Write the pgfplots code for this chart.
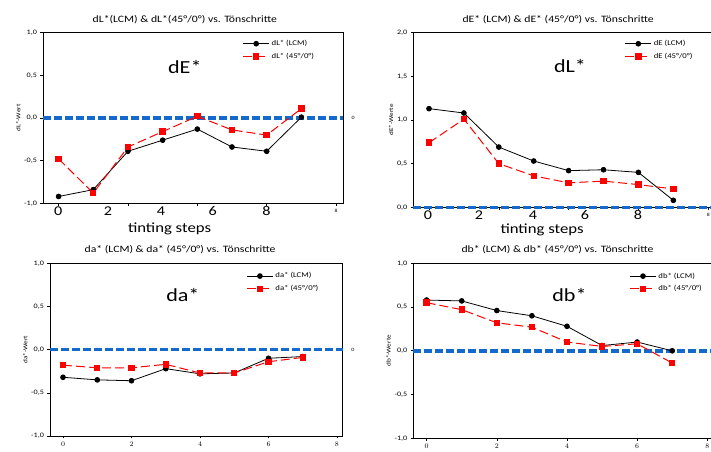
\documentclass[border=0pt]{standalone}
\usepackage{fontspec}
\setmainfont{Carlito}[FakeStretch=1.2]
\usepackage{pgfplots}
\pgfplotsset{compat=1.18}

\definecolor{zblue}{RGB}{20,105,205}

\pgfplotsset{
  panel/.style={
    scale only axis, anchor=south west, clip=false,
    axis line style={line width=0.8bp},
    tick style={black, line width=0.6bp},
    tick align=outside, major tick length=2.5bp,
    xtick pos=bottom, ytick pos=left,
    tick label style={font=\fontsize{6.8}{7}\selectfont},
    ylabel style={font=\fontsize{6}{6}\selectfont, yshift=-3bp},
    legend cell align=left,
    legend style={draw=none, fill=none, anchor=north west,
      font=\fontsize{7.3}{8}\selectfont, row sep=2bp},
    legend image code/.code={\draw[mark repeat=2,mark phase=2,##1]
      plot coordinates {(0bp,0bp) (13bp,0bp) (26bp,0bp)};},
  },
  topx/.style={
    xmin=-0.45, xmax=8.2,
    xtick={0,2,4,6,8}, xticklabels={,,,,8},
    xticklabel style={font=\fontsize{4.8}{5}\selectfont},
    extra x tick style={major tick length=0pt,
      xticklabel style={font=\fontsize{13.5}{14}\selectfont, inner sep=0pt, yshift=-3bp}},
  },
  botx/.style={xmin=-0.38, xmax=8.17, xtick={0,2,4,6,8}},
  pmyticks/.style={ymin=-1, ymax=1, ytick={-1,-0.5,0,0.5,1},
    yticklabels={{-1,0},{-0,5},{0,0},{0,5},{1,0}}},
  lcm/.style={black, line width=0.8bp, mark=*, mark size=2.4bp},
  ref/.style={red, line width=1bp, dash pattern=on 9bp off 4bp,
    mark=square*, mark size=2.7bp, mark options={solid}},
  zero/.style={zblue, line width=3.5bp, dash pattern=on 8bp off 3bp, forget plot},
}

\newcommand{\ttl}{\fontsize{9.8}{10}\selectfont}
\newcommand{\bigfont}{\fontsize{18.5}{19}\selectfont}
\newcommand{\steps}{\fontsize{14}{15}\selectfont}

\begin{document}
\begin{tikzpicture}
\path[use as bounding box, clip] (0,0) rectangle (711bp,452bp);
\fill[white] (0,0) rectangle (711bp,452bp);

% top left
\begin{axis}[panel, topx, pmyticks,
  at={(43bp,248.7bp)}, width=300bp, height=170.6bp,
  extra x ticks={-0.01,1.42,2.95,4.44,5.99},
  extra x tick labels={0,2,4,6,8},
  ylabel={dL*-Wert},
  legend style={at={(rel axis cs:0.655,0.98)}}]
\addplot[zero] coordinates {(-0.45,0) (8.2,0)};
\addplot[lcm] coordinates {(0,-0.92)(1,-0.84)(2,-0.39)(3,-0.26)(4,-0.13)(5,-0.34)(6,-0.39)(7,0.01)};
\addplot[ref] coordinates {(0,-0.48)(1,-0.88)(2,-0.34)(3,-0.16)(4,0.02)(5,-0.14)(6,-0.20)(7,0.11)};
\legend{dL* (LCM), dL* (45°/0°)}
\node[font=\bigfont] at (axis cs:3.64,0.6) {dE*};
\node[font=\ttl] at (axis cs:3.64,1) [yshift=13bp] {dL*(LCM) \& dL*(45°/0°) vs. Tönschritte};
\node[font=\steps, inner sep=0pt] at (axis cs:3.2,-1) [yshift=-26bp] {tinting steps};
\node[font=\fontsize{5}{6}\selectfont, anchor=west] at (axis cs:8.2,0) [xshift=5bp] {0};
\end{axis}

% top right
\begin{axis}[panel, topx,
  at={(413.3bp,244.7bp)}, width=301.9bp, height=174.6bp,
  ymin=0, ymax=2, ytick={0,0.5,1,1.5,2},
  yticklabels={{0,0},{0,5},{1,0},{1,5},{2,0}},
  extra x ticks={-0.03,1.43,2.98,4.47,5.99},
  extra x tick labels={0,2,4,6,8},
  ylabel={dE*-Werte},
  legend style={at={(rel axis cs:0.69,0.98)}}]
\addplot[zero] coordinates {(-0.45,0) (8.2,0)};
\addplot[lcm] coordinates {(0,1.13)(1,1.08)(2,0.69)(3,0.53)(4,0.42)(5,0.43)(6,0.40)(7,0.08)};
\addplot[ref] coordinates {(0,0.74)(1,1.01)(2,0.50)(3,0.36)(4,0.28)(5,0.30)(6,0.26)(7,0.21)};
\legend{dE (LCM), dE (45°/0°)}
\node[font=\bigfont] at (axis cs:4.04,1.62) {dL*};
\node[font=\ttl] at (axis cs:3.70,2) [yshift=13bp] {dE* (LCM) \& dE* (45°/0°) vs. Tönschritte};
\node[font=\steps, inner sep=0pt] at (axis cs:3.24,0) [yshift=-22.2bp] {tinting steps};
\end{axis}

% bottom left
\begin{axis}[panel, botx, pmyticks,
  at={(50bp,16bp)}, width=292.8bp, height=172.7bp,
  ylabel={da*-Wert},
  legend style={at={(rel axis cs:0.66,0.97)}}]
\addplot[zero] coordinates {(-0.38,0) (8.17,0)};
\addplot[lcm] coordinates {(0,-0.32)(1,-0.35)(2,-0.36)(3,-0.22)(4,-0.28)(5,-0.27)(6,-0.10)(7,-0.08)};
\addplot[ref] coordinates {(0,-0.18)(1,-0.21)(2,-0.21)(3,-0.17)(4,-0.27)(5,-0.27)(6,-0.14)(7,-0.09)};
\legend{da* (LCM), da* (45°/0°)}
\node[font=\bigfont] at (axis cs:3.5,0.63) {da*};
\node[font=\ttl] at (axis cs:3.42,1) [yshift=14bp] {da* (LCM) \& da* (45°/0°) vs. Tönschritte};
\node[font=\fontsize{5}{6}\selectfont, anchor=west] at (axis cs:8.17,0) [xshift=5bp] {0};
\end{axis}

% bottom right
\begin{axis}[panel, botx, pmyticks,
  at={(413.3bp,13.7bp)}, width=300bp, height=175bp,
  ylabel={db*-Werte},
  legend style={at={(rel axis cs:0.71,0.97)}}]
\addplot[zero] coordinates {(-0.38,0) (8.17,0)};
\addplot[lcm] coordinates {(0,0.58)(1,0.57)(2,0.46)(3,0.40)(4,0.28)(5,0.06)(6,0.10)(7,0.00)};
\addplot[ref] coordinates {(0,0.55)(1,0.47)(2,0.32)(3,0.27)(4,0.10)(5,0.05)(6,0.08)(7,-0.14)};
\legend{db* (LCM), db* (45°/0°)}
\node[font=\bigfont] at (axis cs:4.07,0.64) {db*};
\node[font=\ttl] at (axis cs:3.73,1) [yshift=14bp] {db* (LCM) \&  db* (45°/0°) vs. Tönschritte};
\end{axis}
\end{tikzpicture}
\end{document}
